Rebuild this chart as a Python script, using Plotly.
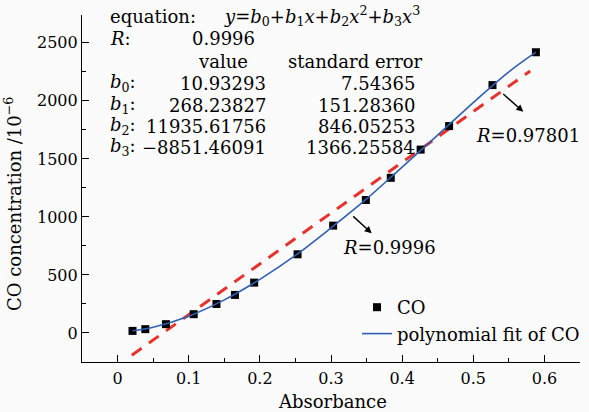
import plotly.graph_objects as go

# Data
absorbance = [0.021, 0.039, 0.068, 0.107, 0.139, 0.165, 0.192, 0.253, 0.303, 0.349, 0.384, 0.426, 0.466, 0.527, 0.588]
co_conc = [18, 33, 76, 162, 250, 328, 434, 678, 925, 1146, 1337, 1580, 1783, 2136, 2419]

# polynomial fit curve
fit_x = [0.021, 0.05, 0.10, 0.15, 0.20, 0.25, 0.30, 0.35, 0.40, 0.45, 0.50, 0.55, 0.588]
fit_y = [20, 50, 145, 285, 462, 668, 905, 1155, 1430, 1705, 1985, 2250, 2420]

# linear fit (red dashed), end points
lin_x = [0.02, 0.58]
lin_y = [-192, 2258]

x_ticks = [0, 0.1, 0.2, 0.3, 0.4, 0.5, 0.6]
y_ticks = [0, 500, 1000, 1500, 2000, 2500]

coef_labels = ["<i>b</i><sub>0</sub>:", "<i>b</i><sub>1</sub>:", "<i>b</i><sub>2</sub>:", "<i>b</i><sub>3</sub>:"]
coef_values = ["10.93293", "268.23827", "11935.61756", "\u22128851.46091"]
coef_errors = ["7.54365", "151.28360", "846.05253", "1366.25584"]

FONT = "DejaVu Serif"
W, H = 589, 412
L, R, T, B = 82, 9, 15, 50
XR = [-0.05, 0.65]
YR = [-250, 2740]
PW, PH = W - L - R, H - T - B


def px_to_x(px):
    return XR[0] + (px - L) / PW * (XR[1] - XR[0])


def py_to_y(py):
    return YR[1] - (py - T) / PH * (YR[1] - YR[0])


def px_paper(px):
    return (px - L) / PW


def py_paper(py):
    return 1 - (py - T) / PH


fig = go.Figure()
fig.add_trace(go.Scatter(x=lin_x, y=lin_y, mode="lines", showlegend=False,
                         line=dict(color="#e8312b", width=3, dash="12px,9px")))
fig.add_trace(go.Scatter(x=absorbance, y=co_conc, mode="markers", name="CO",
                         marker=dict(symbol="square", size=8, color="black")))
fig.add_trace(go.Scatter(x=fit_x, y=fit_y, mode="lines", name="polynomial fit of CO",
                         line=dict(color="#2f5fb3", width=1.6, shape="spline")))

ann = []
tf = dict(family=FONT, size=18, color="black")


def txt(text, px, py, xanchor="left"):
    ann.append(dict(text=text, x=px_to_x(px), y=py_to_y(py), xref="x", yref="y",
                    showarrow=False, xanchor=xanchor, yanchor="middle", font=tf))


txt("equation:", 108, 16)
txt("<i>y</i>=<i>b</i><sub>0</sub>+<i>b</i><sub>1</sub><i>x</i>+<i>b</i><sub>2</sub><i>x</i><sup>2</sup>+<i>b</i><sub>3</sub><i>x</i><sup>3</sup>", 222, 16)
txt("<i>R</i>:", 108, 38.5)
txt("0.9996", 223, 38.5, "center")
txt("value", 223, 61, "center")
txt("standard error", 355, 61, "center")
rows = [83, 105, 126, 147]
for lab, v, e, py in zip(coef_labels, coef_values, coef_errors, rows):
    txt(lab, 108, py)
    txt(v, 268, py, "right")
    txt(e, 417, py, "right")

txt("<i>R</i>=0.9996", 389, 247, "center")
txt("<i>R</i>=0.97801", 528, 135, "center")

for (tx, ty), (hx, hy) in [((351.7, 215), (371.7, 233.3)), ((501.7, 92.7), (523.3, 111.7))]:
    ann.append(dict(text="", x=px_to_x(hx), y=py_to_y(hy), xref="x", yref="y",
                    ax=tx - hx, ay=ty - hy, showarrow=True, arrowhead=2,
                    arrowsize=1, arrowwidth=1.4, arrowcolor="black"))

ann.append(dict(text="CO concentration /10<sup>\u22126</sup>", x=px_paper(13), y=py_paper(204),
                xref="paper", yref="paper", showarrow=False, textangle=-90,
                xanchor="center", yanchor="middle", font=tf))
ann.append(dict(text="Absorbance", x=px_paper(332), y=py_paper(401), xref="paper", yref="paper",
                showarrow=False, xanchor="center", yanchor="middle", font=tf))

fig.update_layout(
    width=W, height=H,
    margin=dict(l=L, r=R, t=T, b=B, autoexpand=False),
    paper_bgcolor="#fbfbfb", plot_bgcolor="#fbfbfb",
    font=dict(family=FONT, size=16, color="black"),
    annotations=ann,
    legend=dict(x=px_paper(357), y=py_paper(289), xref="paper", yref="paper",
                xanchor="left", yanchor="top", bgcolor="rgba(0,0,0,0)",
                font=dict(family=FONT, size=18), tracegroupgap=0, itemwidth=30),
    showlegend=True,
)
fig.update_xaxes(range=XR, tickvals=x_ticks, ticktext=[str(v) for v in x_ticks],
                 showgrid=False, zeroline=False, showline=True, linecolor="black", linewidth=1.2,
                 ticks="inside", ticklen=7, tickcolor="black", tickwidth=1.2, ticklabelstandoff=2,
                 minor=dict(dtick=0.05, tick0=0, ticks="inside", ticklen=4, tickcolor="black", tickwidth=1.2),
                 tickfont=dict(family=FONT, size=16))
fig.update_yaxes(range=YR, tickvals=y_ticks, ticktext=[str(v) for v in y_ticks],
                 showgrid=False, zeroline=False, showline=True, linecolor="black", linewidth=1.2,
                 ticks="inside", ticklen=7, tickcolor="black", tickwidth=1.2,
                 minor=dict(dtick=250, tick0=0, ticks="inside", ticklen=4, tickcolor="black", tickwidth=1.2),
                 tickfont=dict(family=FONT, size=16))

fig.write_html("out.html", config={"displayModeBar": False},
               post_script="document.body.style.margin='0';document.body.style.background='#fbfbfb';")
